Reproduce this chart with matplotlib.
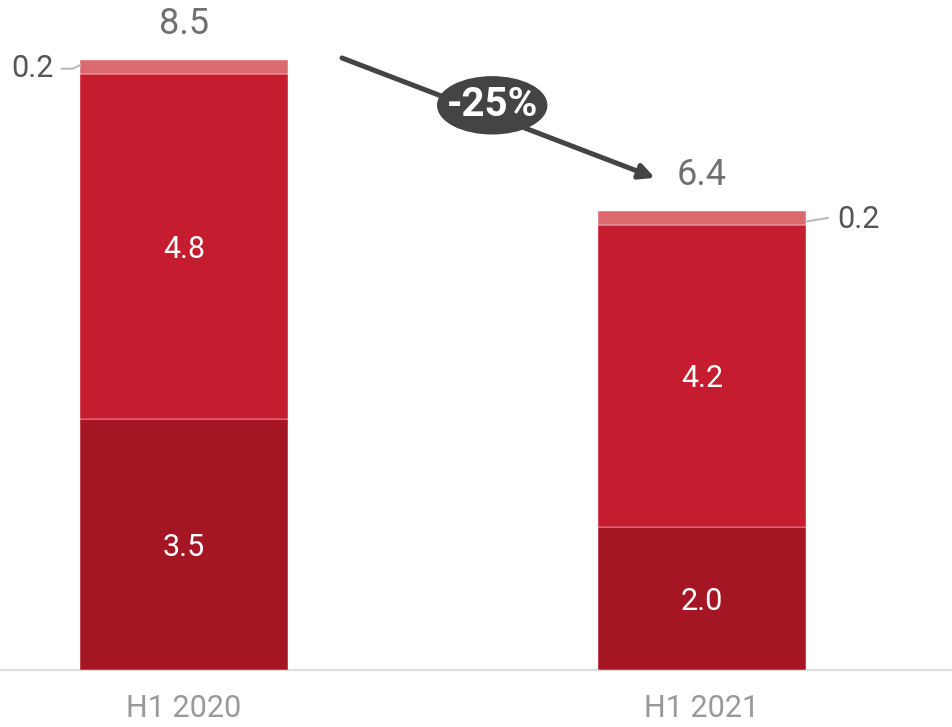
import matplotlib
matplotlib.use("Agg")
import matplotlib.pyplot as plt
from matplotlib.patches import Ellipse

plt.rcParams['font.family'] = ['Roboto', 'DejaVu Sans']

categories = ["H1 2020", "H1 2021"]
base = [3.5, 2.0]
middle = [4.8, 4.2]
top = [0.2, 0.2]
totals = [8.5, 6.4]

c_base = "#A51624"
c_mid = "#C51C2F"
c_top = "#DA6A6E"

fig = plt.figure(figsize=(9.52, 7.27), dpi=100)
ax = fig.add_axes([0, 57 / 727, 1, 670 / 727])
ax.set_xlim(-184 / 518, 1 + 250 / 518)
ax.set_ylim(0, 670 / 71.75)
for s in ax.spines.values():
    s.set_visible(False)
ax.set_xticks([])
ax.set_yticks([])
ax.axhline(0, color="#dddddd", lw=1.5, zorder=1, clip_on=False)

x = [0, 1]
w = 208 / 518
b1 = [m + b for m, b in zip(middle, base)]
ax.bar(x, base, width=w, color=c_base, edgecolor="white", linewidth=0.3, zorder=2)
ax.bar(x, middle, bottom=base, width=w, color=c_mid, edgecolor="white", linewidth=0.3, zorder=2)
ax.bar(x, top, bottom=b1, width=w, color=c_top, edgecolor="white", linewidth=0.3, zorder=2)

fw = "normal"
for i in x:
    ax.text(i, base[i] / 2 - 0.04, f"{base[i]:.1f}", ha="center", va="center",
            color="white", fontsize=22, fontweight=fw)
    ax.text(i, base[i] + middle[i] / 2 - 0.04, f"{middle[i]:.1f}", ha="center", va="center",
            color="white", fontsize=22, fontweight=fw)
    ax.text(i, totals[i] + 0.5, f"{totals[i]:.1f}", ha="center", va="center",
            color="#707070", fontsize=26, fontweight=fw)
    ax.text(i, -0.54, categories[i], ha="center", va="center",
            color="#999999", fontsize=22, fontweight=fw, clip_on=False)

# leader lines for the thin top segments
y0 = b1[0] + top[0] / 2
ax.plot([-w / 2 - 0.035, -w / 2 - 0.014, -w / 2], [y0 - 0.02, y0 - 0.02, y0 + 0.03],
        color="#bbbbbb", lw=1.5, zorder=3)
ax.text(-w / 2 - 0.05, y0 - 0.02, f"{top[0]:.1f}", ha="right", va="center",
        color="#555555", fontsize=22, fontweight=fw)
y1 = b1[1] + top[1] / 2
ax.plot([1 + w / 2, 1 + w / 2 + 0.042], [y1 - 0.05, y1], color="#bbbbbb", lw=1.5, zorder=3)
ax.text(1 + w / 2 + 0.06, y1 - 0.02, f"{top[1]:.1f}", ha="left", va="center",
        color="#555555", fontsize=22, fontweight=fw)

# change arrow with badge
ax.annotate("", xy=(0.909, totals[1] + 0.46), xytext=(0.305, totals[0] + 0.03),
            arrowprops=dict(arrowstyle="-|>,head_length=0.9,head_width=0.45",
                            color="#444444", lw=3.6, shrinkA=0, shrinkB=0), zorder=4)
ax.add_patch(Ellipse((0.595, 7.87), 109 / 518, 57 / 71.75, color="#444444", zorder=5))
change = round((totals[1] / totals[0] - 1) * 100)
ax.text(0.595, 7.87, f"{change}%", ha="center", va="center", color="white",
        fontsize=29, fontweight="bold", zorder=6)

fig.savefig("out.png", dpi=100)
